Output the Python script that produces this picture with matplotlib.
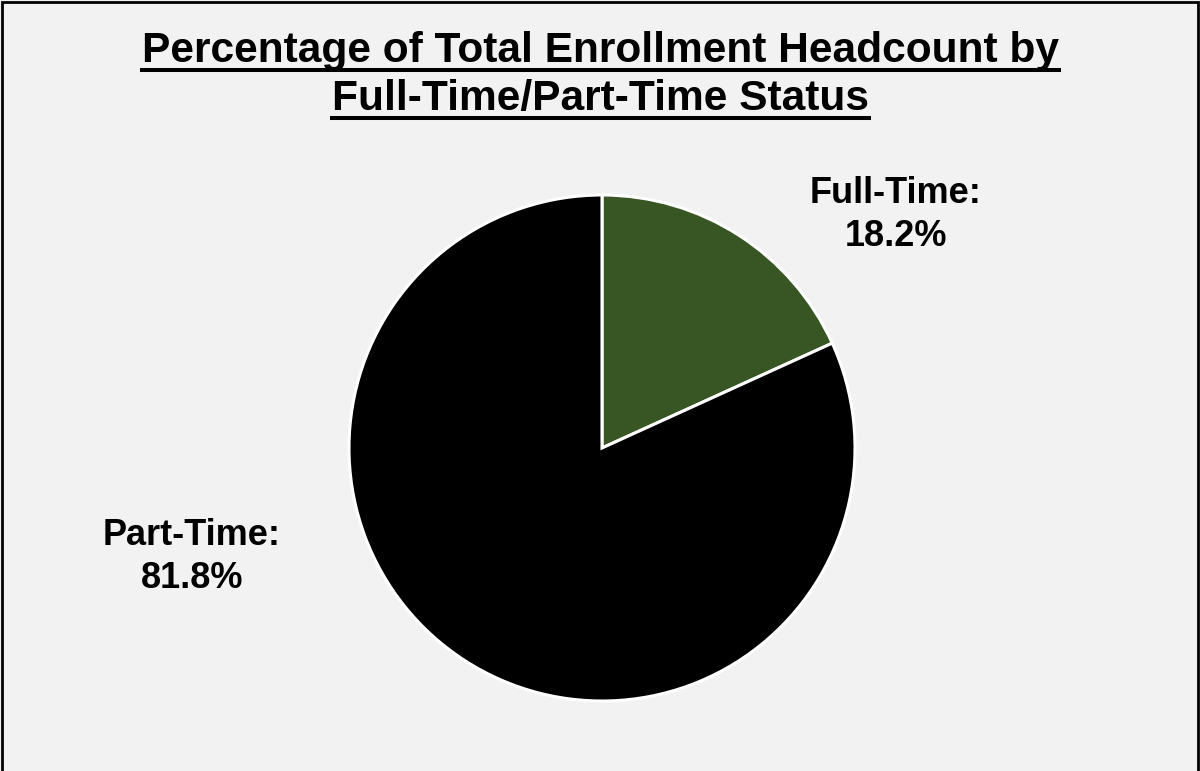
import matplotlib
matplotlib.use('Agg')
import matplotlib.pyplot as plt
import matplotlib.patches as mpatches
from matplotlib.lines import Line2D

# ---------------------------------------------------------------------------
# Data
# ---------------------------------------------------------------------------
categories = ['Full-Time', 'Part-Time']
shares = [18.2, 81.8]
colors = ['#375623', '#000000']
title_lines = ['Percentage of Total Enrollment Headcount by',
               'Full-Time/Part-Time Status']

W, H, DPI = 1200, 771, 100
BG = '#F2F2F2'
plt.rcParams['font.family'] = ['Liberation Sans', 'DejaVu Sans']

fig = plt.figure(figsize=(W / DPI, H / DPI), dpi=DPI)
fig.patch.set_facecolor(BG)


def fy(py):
    """pixel row (from top) -> figure fraction"""
    return (H - py) / H


# pie placement in pixels (center and radius)
cx, cy, r = 602, 448, 253
ax = fig.add_axes([(cx - r) / W, (H - cy - r) / H, 2 * r / W, 2 * r / H])
ax.set_facecolor(BG)
ax.pie(shares, colors=colors, startangle=90, counterclock=False,
       wedgeprops=dict(edgecolor='white', linewidth=2.2), radius=1.0)
ax.set_xlim(-1.0, 1.0)
ax.set_ylim(-1.0, 1.0)
ax.set_aspect('equal')
ax.axis('off')

# data labels: centre x and the two baselines, in pixels
label_pos = [(896, 203, 246), (192, 545, 588)]
for cat, val, (lx, b1, b2) in zip(categories, shares, label_pos):
    for txt, b in ((f'{cat}:', b1), (f'{val:.1f}%', b2)):
        fig.text(lx / W, fy(b), txt, ha='center', va='baseline',
                 fontsize=26, fontweight='bold', color='black')

# title, two lines, each underlined
title_base = [62, 110]
underline_y = [70, 118]
title_texts = []
for line, b in zip(title_lines, title_base):
    t = fig.text(0.5, fy(b), line, ha='center', va='baseline', fontsize=30.6,
                 fontweight='bold', color='black')
    title_texts.append(t)

fig.canvas.draw()
renderer = fig.canvas.get_renderer()
for t, uy in zip(title_texts, underline_y):
    bb = t.get_window_extent(renderer)
    fig.add_artist(Line2D([bb.x0 / W, bb.x1 / W], [fy(uy), fy(uy)],
                          transform=fig.transFigure, color='black', lw=2.9))

# outer border (bottom edge falls outside the image)
fig.add_artist(mpatches.Rectangle((1.5 / W, -0.05), (W - 4) / W, 1.05 - 2 / H,
                                  transform=fig.transFigure, fill=False,
                                  edgecolor='black', lw=2))

fig.savefig('out.png', dpi=DPI, facecolor=fig.get_facecolor())
